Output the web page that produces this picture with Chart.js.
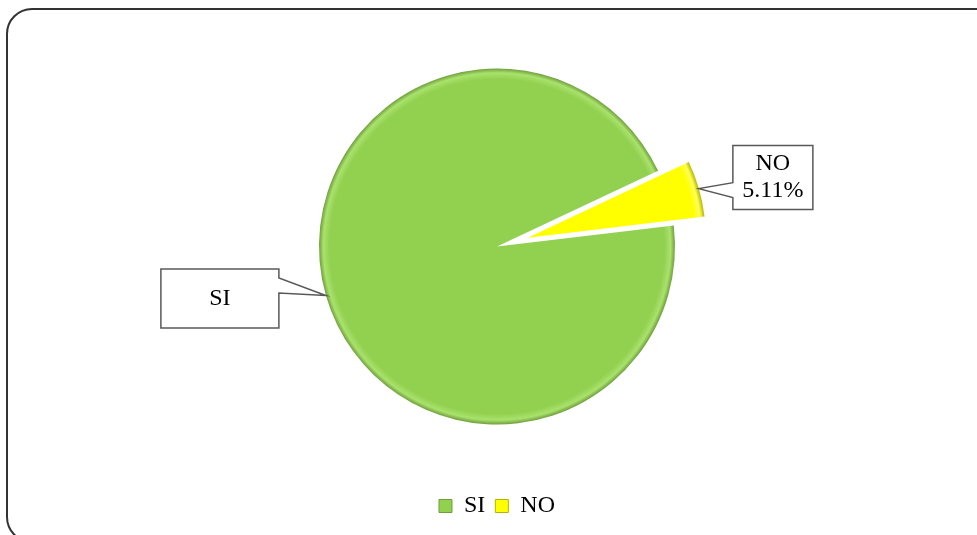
<!DOCTYPE html>
<html>
<head>
<meta charset="utf-8">
<script src="https://cdn.jsdelivr.net/npm/chart.js@4.4.1/dist/chart.umd.min.js"></script>
<style>
  html, body { margin: 0; padding: 0; background: #fff; overflow: hidden; }
  #wrap { position: relative; width: 977px; height: 535px; }
  #frame { position: absolute; left: 6px; top: 8px; width: 1000px; height: 535px; border: 2px solid #333; border-radius: 26px; box-sizing: border-box; }
  #chart { position: absolute; left: 0; top: 0; }
</style>
</head>
<body>
<div id="wrap">
  <div id="frame"></div>
  <canvas id="chart" width="977" height="535"></canvas>
</div>
<script>
// data
const categories = ['SI', 'NO'];
const percentages = [94.89, 5.11];
const labelShowsValue = [false, true];

// look
const sliceColors = ['#92D050', '#FFFF00'];
const rimColors = ['#a9e26c', '#ffff55'];
const edgeColors = ['#6f9e3c', '#b5b500'];
const PIE_RADIUS = 178;
const SERIF = '"Liberation Serif", "Times New Roman", serif';

function sliceFill(context) {
    var i = context.dataIndex;
    var chart = context.chart;
    var area = chart.chartArea;
    if (!area) return sliceColors[i];
    var cx = (area.left + area.right) / 2;
    var cy = (area.top + area.bottom) / 2;
    var g = chart.ctx.createRadialGradient(cx, cy, 0, cx, cy, PIE_RADIUS);
    g.addColorStop(0, sliceColors[i]);
    g.addColorStop(0.94, sliceColors[i]);
    g.addColorStop(0.975, rimColors[i]);
    g.addColorStop(1, edgeColors[i]);
    return g;
}

// pull slices out of the pie without making them bigger
const explodePlugin = {
    id: 'explode',
    beforeDatasetDraw: function (chart, args, opts) {
        var ctx = chart.ctx;
        args.meta.data.forEach(function (arc, i) {
            var d = opts.distance[i] || 0;
            var mid = (arc.startAngle + arc.endAngle) / 2;
            ctx.save();
            ctx.translate(Math.cos(mid) * d, Math.sin(mid) * d);
            arc.draw(ctx);
            ctx.restore();
        });
        return false;
    }
};

// boxed labels with a pointer to the slice
const calloutPlugin = {
    id: 'callouts',
    afterDatasetsDraw: function (chart, args, opts) {
        var ctx = chart.ctx;
        var meta = chart.getDatasetMeta(0);
        meta.data.forEach(function (arc, i) {
            var box = opts.boxes[i];
            var d = opts.explode[i] || 0;
            var mid = (arc.startAngle + arc.endAngle) / 2;
            var r = arc.outerRadius + d;
            var tx = arc.x + Math.cos(mid) * r;
            var ty = arc.y + Math.sin(mid) * r;
            var cx = tx + box.dx, cy = ty + box.dy;
            var L = cx - box.w / 2, R = cx + box.w / 2, T = cy - box.h / 2, B = cy + box.h / 2;
            var b1 = T + box.base, b2 = b1 + 15;

            ctx.save();
            ctx.beginPath();
            ctx.moveTo(L, T);
            ctx.lineTo(R, T);
            if (tx > R) {
                ctx.lineTo(R, b1);
                ctx.lineTo(tx, ty);
                ctx.lineTo(R, b2);
            }
            ctx.lineTo(R, B);
            ctx.lineTo(L, B);
            if (tx < L) {
                ctx.lineTo(L, b2);
                ctx.lineTo(tx, ty);
                ctx.lineTo(L, b1);
            }
            ctx.closePath();
            ctx.fillStyle = '#fff';
            ctx.fill();
            ctx.lineWidth = 1.5;
            ctx.strokeStyle = '#595959';
            ctx.stroke();

            var lines = [categories[i]];
            if (labelShowsValue[i]) lines.push(percentages[i].toFixed(2) + '%');
            ctx.fillStyle = '#000';
            ctx.font = '24px ' + SERIF;
            ctx.textAlign = 'center';
            ctx.textBaseline = 'middle';
            var lh = 27;
            var y0 = cy - (lines.length - 1) * lh / 2;
            lines.forEach(function (t, k) {
                ctx.fillText(t, cx, y0 + k * lh);
            });
            ctx.restore();
        });
    }
};

const explodeDistance = [0, 32];

var ctx = document.getElementById('chart');
var chart = new Chart(ctx, {
    type: 'pie',
    data: {
        labels: categories,
        datasets: [{
            data: percentages,
            backgroundColor: sliceFill,
            borderWidth: 0,
            radius: PIE_RADIUS
        }]
    },
    options: {
        responsive: false,
        animation: false,
        rotation: 83.2,
        layout: { padding: { left: 17, top: 9, bottom: 7 } },
        plugins: {
            tooltip: { enabled: false },
            explode: { distance: explodeDistance },
            callouts: {
                explode: explodeDistance,
                boxes: [
                    { dx: -106, dy: 3, w: 118, h: 59, base: 9 },
                    { dx: 74, dy: -11, w: 80, h: 64, base: 37 }
                ]
            },
            legend: {
                position: 'bottom',
                labels: {
                    boxWidth: 13,
                    boxHeight: 13,
                    padding: 10,
                    color: '#000',
                    font: { family: SERIF, size: 24 },
                    generateLabels: function (chart) {
                        return categories.map(function (c, i) {
                            return { text: c, fillStyle: sliceColors[i], strokeStyle: edgeColors[i], lineWidth: 1, hidden: false, index: i };
                        });
                    }
                }
            }
        }
    },
    plugins: [explodePlugin, calloutPlugin]
});
</script>
</body>
</html>
